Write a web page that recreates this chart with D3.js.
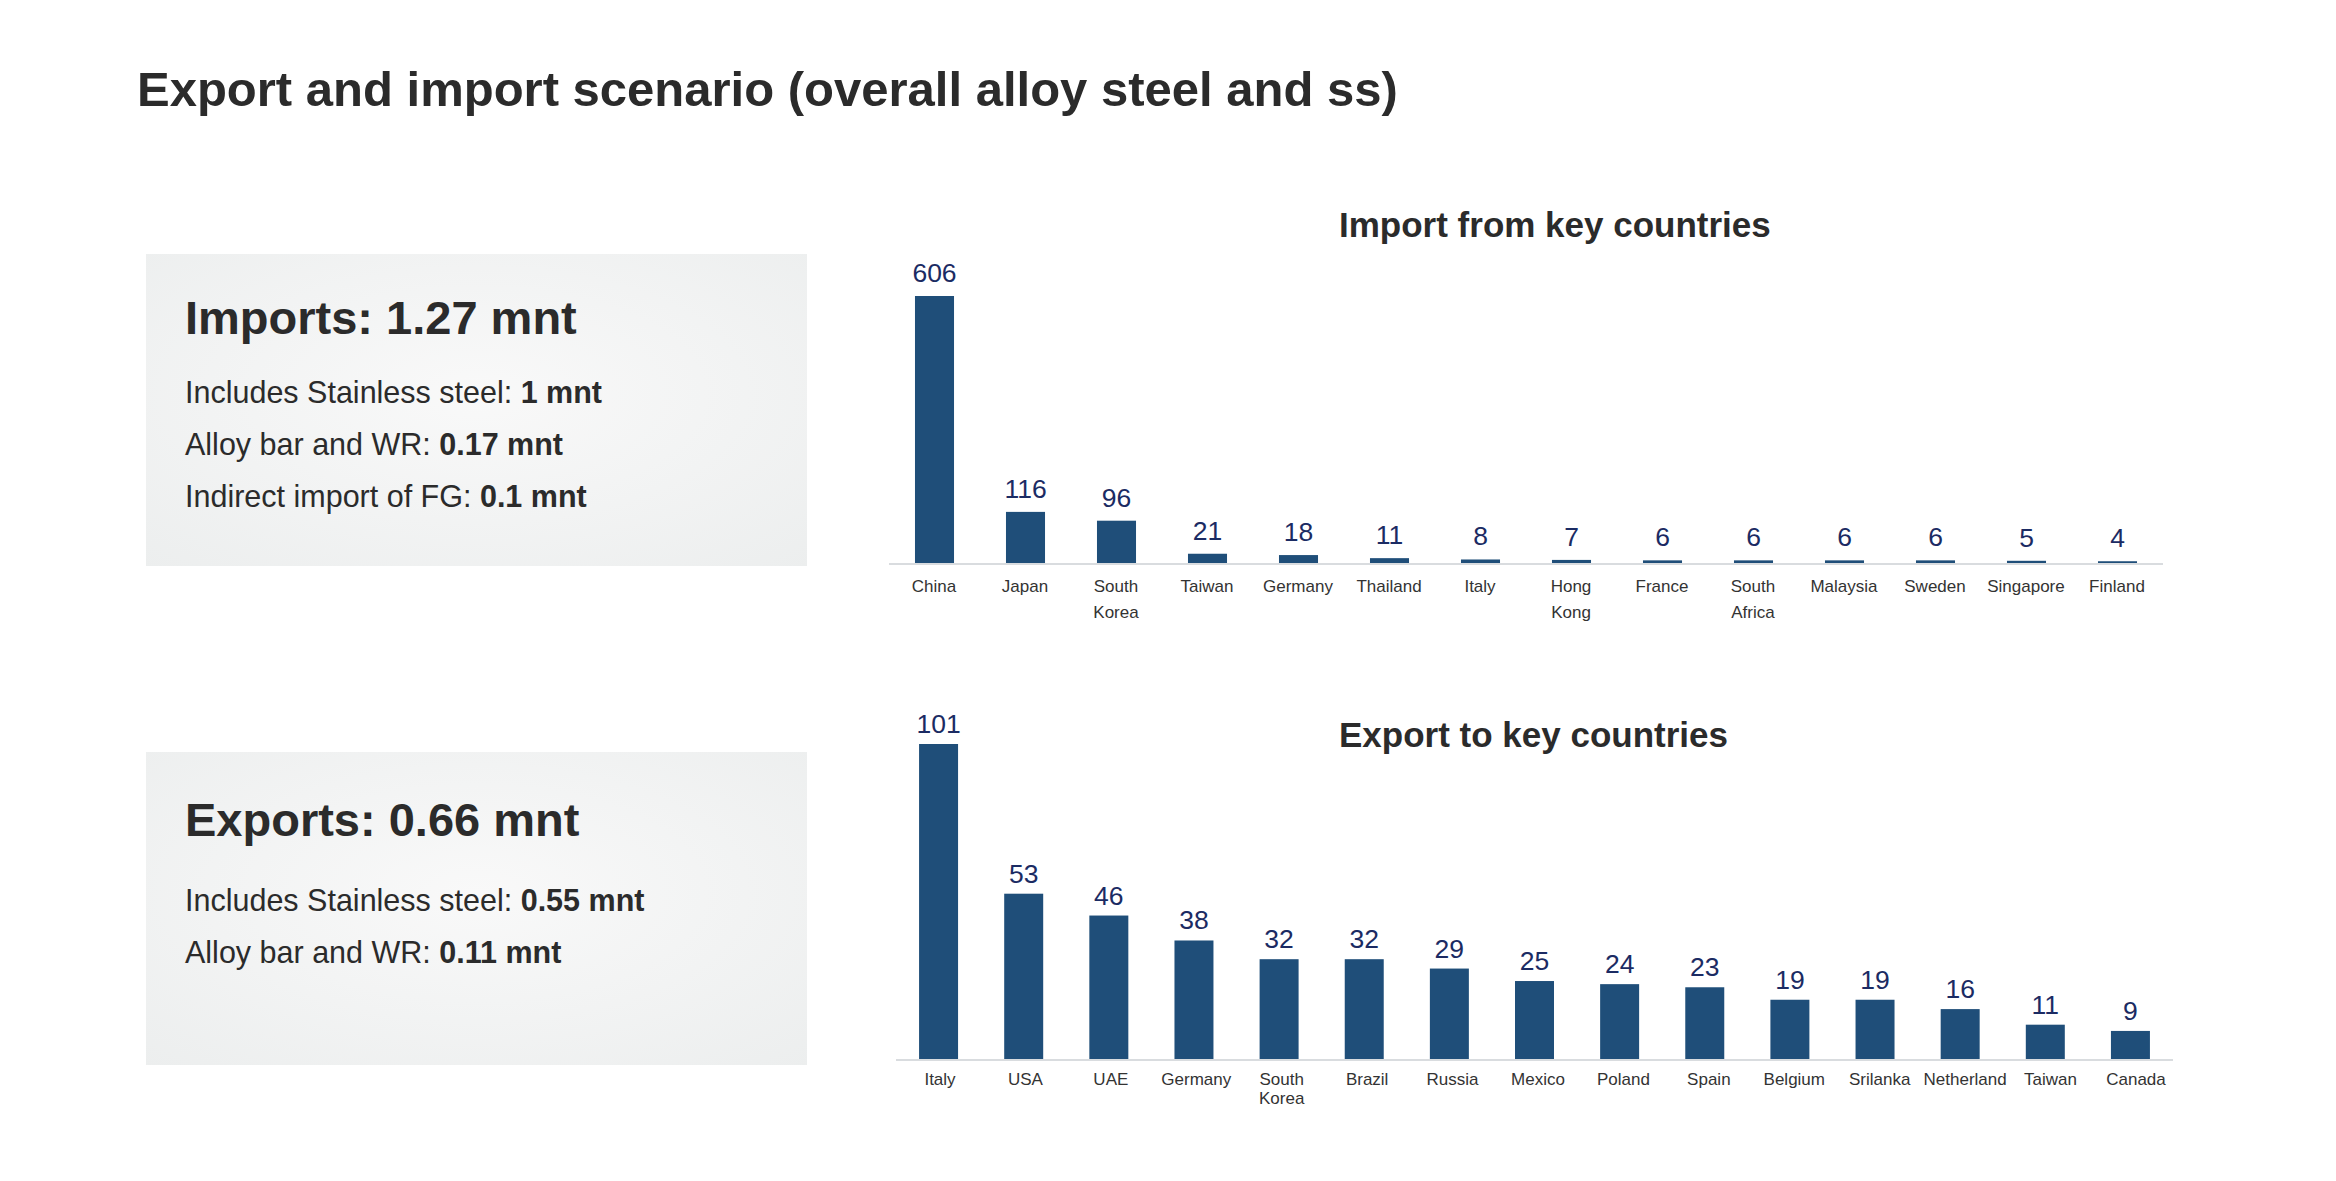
<!DOCTYPE html>
<html>
<head>
<meta charset="utf-8">
<script src="https://cdn.jsdelivr.net/npm/d3@7"></script>
<style>
  body { margin: 0; background: #fff; }
  text { font-family: "Liberation Sans", Arial, sans-serif; }
</style>
</head>
<body>
<div id="chart"></div>
<script>
// Data (thousand tonnes)
const importCountries = ["China", "Japan", "South Korea", "Taiwan", "Germany", "Thailand", "Italy",
  "Hong Kong", "France", "South Africa", "Malaysia", "Sweden", "Singapore", "Finland"];
const importValues = [606, 116, 96, 21, 18, 11, 8, 7, 6, 6, 6, 6, 5, 4];

const exportCountries = ["Italy", "USA", "UAE", "Germany", "South Korea", "Brazil", "Russia", "Mexico",
  "Poland", "Spain", "Belgium", "Srilanka", "Netherland", "Taiwan", "Canada"];
const exportValues = [101, 53, 46, 38, 32, 32, 29, 25, 24, 23, 19, 19, 16, 11, 9];

const importSummary = ["Imports: 1.27 mnt",
  ["Includes Stainless steel: ", "1 mnt"],
  ["Alloy bar and WR: ", "0.17 mnt"],
  ["Indirect import of FG: ", "0.1 mnt"]];
const exportSummary = ["Exports: 0.66 mnt",
  ["Includes Stainless steel: ", "0.55 mnt"],
  ["Alloy bar and WR: ", "0.11 mnt"]];

const width = 2336, height = 1181;
const barColor = "#1f4e79";
const valueColor = "#1b2b63";
const textColor = "#2b2b2b";

const svg = d3.select("#chart")
    .append("svg")
    .attr("width", width)
    .attr("height", height);

// soft gray gradient for the summary boxes
const grad = svg.append("defs").append("radialGradient")
    .attr("id", "boxGrad")
    .attr("cx", "50%").attr("cy", "45%").attr("r", "75%");
grad.append("stop").attr("offset", "0%").attr("stop-color", "#f9f9f9");
grad.append("stop").attr("offset", "100%").attr("stop-color", "#eceeee");

// Main title
svg.append("text")
    .attr("x", 137)
    .attr("y", 106)
    .attr("font-size", 49)
    .attr("font-weight", "bold")
    .attr("fill", textColor)
    .text("Export and import scenario (overall alloy steel and ss)");

// Summary box
function summaryBox(top, bottom, lines, headY, firstY) {
    svg.append("rect")
        .attr("x", 146)
        .attr("y", top)
        .attr("width", 661)
        .attr("height", bottom - top)
        .attr("fill", "url(#boxGrad)");

    svg.append("text")
        .attr("x", 185)
        .attr("y", headY)
        .attr("font-size", 47)
        .attr("font-weight", "bold")
        .attr("fill", textColor)
        .text(lines[0]);

    lines.slice(1).forEach((l, i) => {
        const t = svg.append("text")
            .attr("x", 185)
            .attr("y", firstY + i * 52)
            .attr("font-size", 30.5)
            .attr("fill", textColor);
        t.append("tspan").text(l[0]);
        t.append("tspan").attr("font-weight", "bold").text(l[1]);
    });
}

summaryBox(254, 566, importSummary, 334, 403);
summaryBox(752, 1065, exportSummary, 836, 911);

// Bar chart
function barChart(opts) {
    const x = d3.scaleBand()
        .domain(opts.categories)
        .range([opts.x0, opts.x1])
        .paddingInner(opts.padding)
        .paddingOuter(opts.padding / 2);

    // category labels sit on a slightly wider grid than the bars
    const xl = d3.scalePoint()
        .domain(opts.categories)
        .range(opts.labelRange);

    const y = d3.scaleLinear()
        .domain([0, d3.max(opts.values)])
        .range([opts.base, opts.top]);

    const data = opts.categories.map((c, i) => ({ name: c, value: opts.values[i] }));
    const g = svg.append("g");

    g.append("text")
        .attr("x", 1339)
        .attr("y", opts.titleY)
        .attr("font-size", 35)
        .attr("font-weight", "bold")
        .attr("fill", textColor)
        .text(opts.title);

    g.selectAll(".bar")
        .data(data)
        .enter()
        .append("rect")
        .attr("class", "bar")
        .attr("x", d => x(d.name))
        .attr("y", d => y(d.value))
        .attr("width", x.bandwidth())
        .attr("height", d => opts.base - y(d.value))
        .attr("fill", barColor);

    // baseline
    g.append("line")
        .attr("x1", opts.x0).attr("x2", opts.x1)
        .attr("y1", opts.base + 1).attr("y2", opts.base + 1)
        .attr("stroke", "#d9dcdf")
        .attr("stroke-width", 2);

    g.selectAll(".val")
        .data(data)
        .enter()
        .append("text")
        .attr("class", "val")
        .attr("x", d => x(d.name) + x.bandwidth() / 2)
        .attr("y", d => y(d.value) - opts.labelGap)
        .attr("text-anchor", "middle")
        .attr("font-size", 26.5)
        .attr("fill", valueColor)
        .text(d => d.value);

    const lbl = g.selectAll(".cat")
        .data(data)
        .enter()
        .append("text")
        .attr("class", "cat")
        .attr("y", opts.base + opts.catOffset)
        .attr("text-anchor", "middle")
        .attr("font-size", 17)
        .attr("fill", "#333");

    lbl.selectAll("tspan")
        .data(d => d.name.split(" ").map(w => ({ w, cx: xl(d.name) })))
        .enter()
        .append("tspan")
        .attr("x", d => d.cx)
        .attr("dy", (d, i) => i === 0 ? 0 : opts.lineStep)
        .text(d => d.w);
}

barChart({
    title: "Import from key countries", titleY: 237,
    categories: importCountries, values: importValues,
    x0: 889, x1: 2163, padding: 0.571,
    labelRange: [934, 2117],
    base: 563, top: 296, labelGap: 14,
    catOffset: 29, lineStep: 26
});

barChart({
    title: "Export to key countries", titleY: 747,
    categories: exportCountries, values: exportValues,
    x0: 896, x1: 2173, padding: 0.542,
    labelRange: [940, 2136],
    base: 1059, top: 744, labelGap: 11,
    catOffset: 26, lineStep: 19
});
</script>
</body>
</html>
